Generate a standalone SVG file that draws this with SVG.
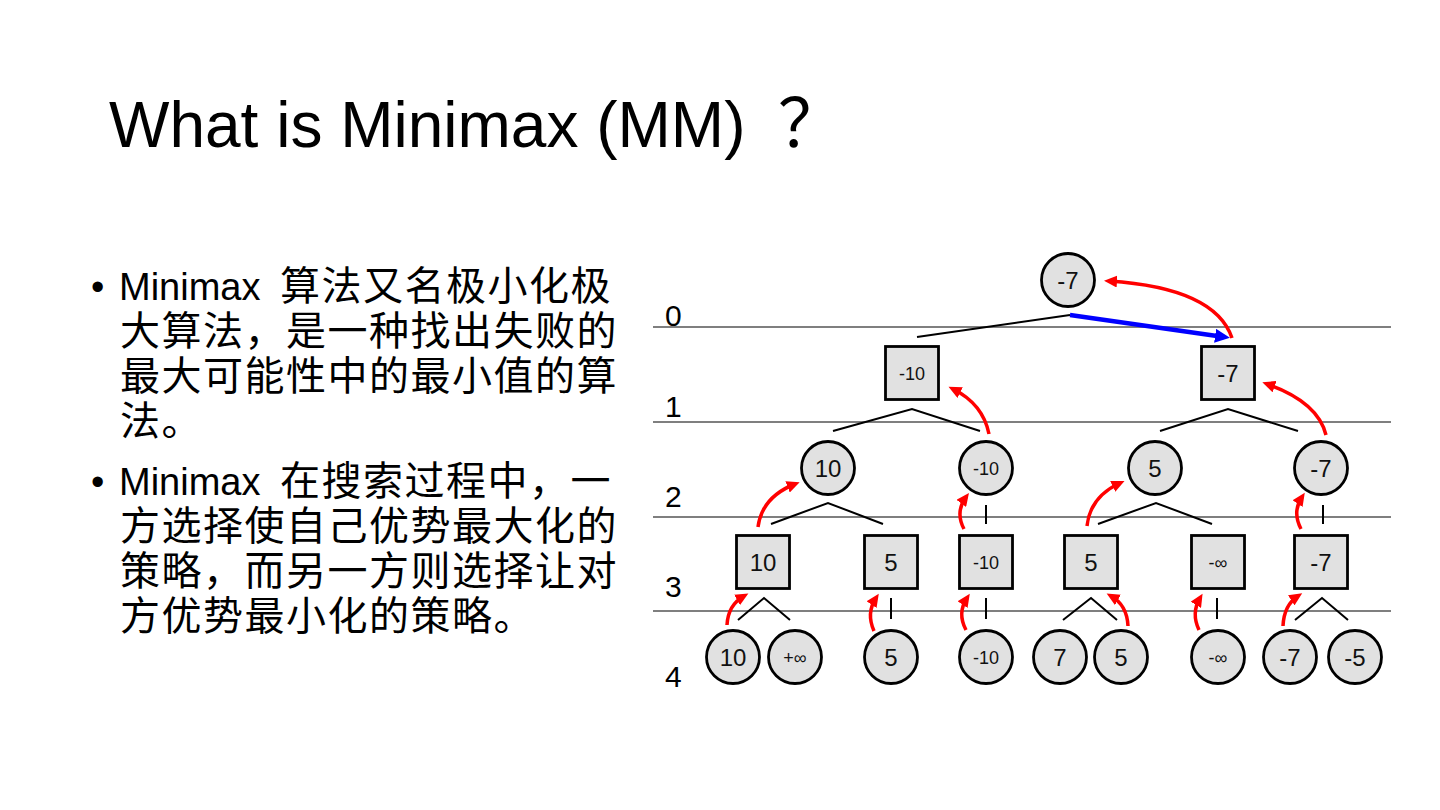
<svg xmlns="http://www.w3.org/2000/svg" width="1440" height="810" viewBox="0 0 1440 810">
<defs>
<style>
.title{font-family:"Liberation Sans","Noto Sans CJK SC",sans-serif;font-size:64px;fill:#000}
.q{font-family:"Noto Sans CJK SC",sans-serif;font-size:66px}
.lat{font-family:"Liberation Sans",sans-serif;font-size:38px;fill:#000}
.cjk{font-family:"Noto Sans CJK SC",sans-serif;font-size:40px;letter-spacing:1.5px;fill:#000}
.lvl{font-family:"Liberation Sans",sans-serif;font-size:30px;fill:#000}
.nd{fill:#e1e1e1;stroke:#000;stroke-width:2.8}
.big{font-family:"Liberation Sans",sans-serif;font-size:24px;fill:#111;text-anchor:middle}
.sm{font-family:"Liberation Sans",sans-serif;font-size:18px;fill:#111;text-anchor:middle}
.edge{fill:none;stroke:#000;stroke-width:2}
.rule{stroke:#000;stroke-width:1.2}
.red{fill:none;stroke:#f00;stroke-width:3.5;marker-end:url(#ra)}
.blue{fill:none;stroke:#00f;stroke-width:4.5;marker-end:url(#ba)}
</style>
<marker id="ra" markerUnits="userSpaceOnUse" markerWidth="14" markerHeight="12" refX="8" refY="6" orient="auto"><path d="M0,0 L13,6 L0,12 z" fill="#f00"/></marker>
<marker id="ba" markerUnits="userSpaceOnUse" markerWidth="16" markerHeight="14" refX="9" refY="7" orient="auto"><path d="M0,0 L15,7 L0,14 z" fill="#00f"/></marker>
</defs>
<rect width="1440" height="810" fill="#fff"/>

<text class="title" x="109" y="147">What is Minimax (MM) <tspan class="q" x="778">？</tspan></text>

<g id="bullets">
<text class="lat" x="91" y="300">•</text>
<text class="lat" x="119" y="300">Minimax</text>
<text class="cjk" x="280" y="300">算法又名极小化极</text>
<text class="cjk" x="120" y="345">大算法，是一种找出失败的</text>
<text class="cjk" x="120" y="390">最大可能性中的最小值的算</text>
<text class="cjk" x="120" y="435">法。</text>
<text class="lat" x="91" y="495">•</text>
<text class="lat" x="119" y="495">Minimax</text>
<text class="cjk" x="280" y="495">在搜索过程中，一</text>
<text class="cjk" x="120" y="540">方选择使自己优势最大化的</text>
<text class="cjk" x="120" y="585">策略，而另一方则选择让对</text>
<text class="cjk" x="120" y="630">方优势最小化的策略。</text>
</g>

<g id="levels">
<line class="rule" x1="653" y1="327" x2="1391" y2="327"/>
<line class="rule" x1="653" y1="422" x2="1391" y2="422"/>
<line class="rule" x1="653" y1="517" x2="1391" y2="517"/>
<line class="rule" x1="653" y1="611" x2="1391" y2="611"/>
<text class="lvl" x="665" y="326">0</text>
<text class="lvl" x="665" y="417">1</text>
<text class="lvl" x="665" y="507">2</text>
<text class="lvl" x="665" y="597">3</text>
<text class="lvl" x="665" y="687">4</text>
</g>

<g id="connectors">
<polyline class="edge" points="917,337 1070,315"/>
<polyline class="edge" points="833,431 912,409 980,431"/>
<polyline class="edge" points="1160,431 1228,409 1298,431"/>
<polyline class="edge" points="771,524 828,503 883,524"/>
<line class="edge" x1="986" y1="505" x2="986" y2="524"/>
<polyline class="edge" points="1098,524 1156,503 1212,524"/>
<line class="edge" x1="1323" y1="505" x2="1323" y2="524"/>
<polyline class="edge" points="738,620 764,598 790,620"/>
<line class="edge" x1="891" y1="598" x2="891" y2="619"/>
<line class="edge" x1="986" y1="598" x2="986" y2="619"/>
<polyline class="edge" points="1063,620 1091,598 1117,620"/>
<line class="edge" x1="1217" y1="598" x2="1217" y2="619"/>
<polyline class="edge" points="1295,620 1322,598 1348,620"/>
<path class="blue" d="M1070,315 L1224,337"/>
<path class="red" d="M1232,338 Q1215,288 1109,281"/>
<path class="red" d="M989,434 Q983,404 953,389"/>
<path class="red" d="M1326,435 Q1318,402 1267,384"/>
<path class="red" d="M758,527 Q762,497 795,484"/>
<path class="red" d="M964,529 Q955,512 966,497"/>
<path class="red" d="M1087,526 Q1090,497 1120,483"/>
<path class="red" d="M1301,529 Q1292,512 1302,497"/>
<path class="red" d="M727,625 Q728,605 744,596"/>
<path class="red" d="M874,631 Q866,613 876,598"/>
<path class="red" d="M966,630 Q957,613 967,598"/>
<path class="red" d="M1128,626 Q1127,605 1111,596"/>
<path class="red" d="M1199,630 Q1191,613 1200,598"/>
<path class="red" d="M1283,626 Q1284,605 1298,596"/>
</g>

<g id="n0"><circle class="nd" cx="1068" cy="280" r="26.5"/><text class="big" x="1068" y="288.5">-7</text></g>
<g id="n1a"><rect class="nd" x="885.5" y="346.5" width="53" height="53"/><text class="sm" x="912" y="379.5">-10</text></g>
<g id="n1b"><rect class="nd" x="1201.5" y="346.5" width="53" height="53"/><text class="big" x="1228" y="381.5">-7</text></g>
<g id="n2a"><circle class="nd" cx="828" cy="468" r="26.5"/><text class="big" x="828" y="476.5">10</text></g>
<g id="n2b"><circle class="nd" cx="986" cy="468" r="26.5"/><text class="sm" x="986" y="474.5">-10</text></g>
<g id="n2c"><circle class="nd" cx="1155" cy="468" r="26.5"/><text class="big" x="1155" y="476.5">5</text></g>
<g id="n2d"><circle class="nd" cx="1321" cy="468" r="26.5"/><text class="big" x="1321" y="476.5">-7</text></g>
<g id="n3a"><rect class="nd" x="736.5" y="535.5" width="53" height="53"/><text class="big" x="763" y="570.5">10</text></g>
<g id="n3b"><rect class="nd" x="864.5" y="535.5" width="53" height="53"/><text class="big" x="891" y="570.5">5</text></g>
<g id="n3c"><rect class="nd" x="959.5" y="535.5" width="53" height="53"/><text class="sm" x="986" y="568.5">-10</text></g>
<g id="n3d"><rect class="nd" x="1064.5" y="535.5" width="53" height="53"/><text class="big" x="1091" y="570.5">5</text></g>
<g id="n3e"><rect class="nd" x="1191.5" y="535.5" width="53" height="53"/><text class="sm" x="1218" y="568.5">-∞</text></g>
<g id="n3f"><rect class="nd" x="1294.5" y="535.5" width="53" height="53"/><text class="big" x="1321" y="570.5">-7</text></g>
<g id="n4a"><circle class="nd" cx="733" cy="657" r="26.5"/><text class="big" x="733" y="665.5">10</text></g>
<g id="n4b"><circle class="nd" cx="795" cy="657" r="26.5"/><text class="sm" x="795" y="663.5">+∞</text></g>
<g id="n4c"><circle class="nd" cx="891" cy="657" r="26.5"/><text class="big" x="891" y="665.5">5</text></g>
<g id="n4d"><circle class="nd" cx="986" cy="657" r="26.5"/><text class="sm" x="986" y="663.5">-10</text></g>
<g id="n4e"><circle class="nd" cx="1060" cy="657" r="26.5"/><text class="big" x="1060" y="665.5">7</text></g>
<g id="n4f"><circle class="nd" cx="1121" cy="657" r="26.5"/><text class="big" x="1121" y="665.5">5</text></g>
<g id="n4g"><circle class="nd" cx="1218" cy="657" r="26.5"/><text class="sm" x="1218" y="663.5">-∞</text></g>
<g id="n4h"><circle class="nd" cx="1290" cy="657" r="26.5"/><text class="big" x="1290" y="665.5">-7</text></g>
<g id="n4i"><circle class="nd" cx="1355" cy="657" r="26.5"/><text class="big" x="1355" y="665.5">-5</text></g>
</svg>
